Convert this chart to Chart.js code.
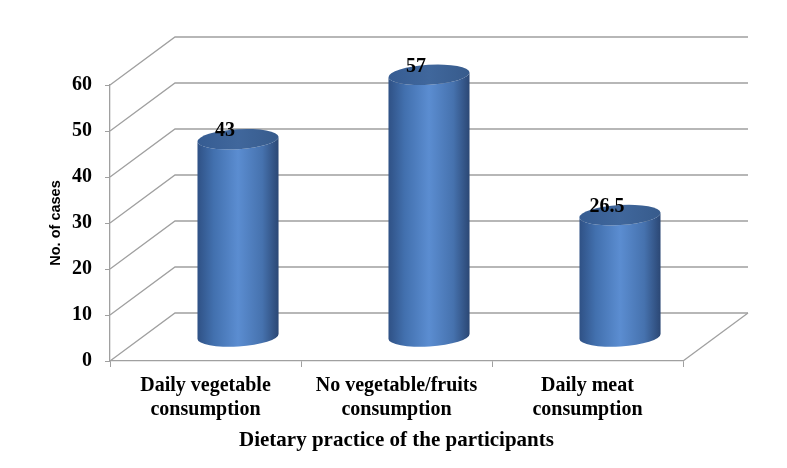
<!DOCTYPE html>
<html>
<head>
<meta charset="utf-8">
<title>Dietary practice of the participants</title>
<script src="https://cdn.jsdelivr.net/npm/chart.js@4"></script>
<style>
  html, body { margin: 0; padding: 0; background: #fff; }
  #wrap { width: 787px; height: 468px; }
</style>
</head>
<body>
<div id="wrap"><canvas id="dietChart"></canvas></div>
<script>
// values
const categories = [
    ['Daily vegetable', 'consumption'],
    ['No vegetable/fruits', 'consumption'],
    ['Daily meat', 'consumption']
];
const cases = [43, 57, 26.5];
const yTicks = [0, 10, 20, 30, 40, 50, 60];

// 3d look
const DEPTH_X = 65;
const DEPTH_Y = -48;
const GRID_COLOR = '#a0a0a0';
const SERIF = '"Liberation Serif", "Times New Roman", serif';

const wallsPlugin = {
    id: 'walls',
    beforeDatasetsDraw(chart) {
        const { ctx, chartArea } = chart;
        const yScale = chart.scales.y;
        ctx.save();
        ctx.strokeStyle = GRID_COLOR;
        ctx.lineWidth = 1.3;
        yTicks.forEach(v => {
            const y = yScale.getPixelForValue(v);
            ctx.beginPath();
            ctx.moveTo(chartArea.left, y);
            ctx.lineTo(chartArea.left + DEPTH_X, y + DEPTH_Y);
            ctx.lineTo(chartArea.right + DEPTH_X, y + DEPTH_Y);
            ctx.stroke();
        });
        // right edge of the floor
        const y0 = yScale.getPixelForValue(0);
        ctx.beginPath();
        ctx.moveTo(chartArea.right, y0);
        ctx.lineTo(chartArea.right + DEPTH_X, y0 + DEPTH_Y);
        ctx.stroke();
        ctx.restore();
    },
    afterDatasetsDraw(chart) {
        const { ctx } = chart;
        const meta = chart.getDatasetMeta(0);
        const dx = DEPTH_X / 2;
        const dy = DEPTH_Y / 2;
        const rot = -0.06;
        ctx.save();
        meta.data.forEach((bar, i) => {
            const cx = bar.x + dx;
            const top = bar.y + dy;
            const base = bar.base + dy;
            const rx = bar.width / 2;
            const ry = 10;

            const body = ctx.createLinearGradient(cx - rx, 0, cx + rx, 0);
            body.addColorStop(0, '#2f5185');
            body.addColorStop(0.2, '#4270ae');
            body.addColorStop(0.5, '#5b8dd1');
            body.addColorStop(0.8, '#4672ae');
            body.addColorStop(1, '#2b4774');
            ctx.fillStyle = body;
            ctx.beginPath();
            ctx.ellipse(cx, top, rx, ry, rot, Math.PI, 0, true);
            ctx.lineTo(cx + rx, base);
            ctx.ellipse(cx, base, rx, ry, rot, 0, Math.PI, false);
            ctx.closePath();
            ctx.fill();

            const cap = ctx.createLinearGradient(cx - rx, 0, cx + rx, 0);
            cap.addColorStop(0, '#365c92');
            cap.addColorStop(0.5, '#40679c');
            cap.addColorStop(1, '#375b8c');
            ctx.fillStyle = cap;
            ctx.beginPath();
            ctx.ellipse(cx, top, rx, ry, rot, 0, Math.PI * 2);
            ctx.fill();

            ctx.fillStyle = '#000';
            ctx.font = 'bold 20px ' + SERIF;
            ctx.textAlign = 'center';
            ctx.textBaseline = 'middle';
            ctx.fillText(String(cases[i]), cx - 13, top - 8);
        });
        ctx.restore();
    }
};

new Chart(document.getElementById('dietChart'), {
    type: 'bar',
    data: {
        labels: categories,
        datasets: [{
            label: 'No. of cases',
            data: cases,
            backgroundColor: 'rgba(0,0,0,0)',
            borderWidth: 0,
            categoryPercentage: 1,
            barPercentage: 0.425
        }]
    },
    options: {
        responsive: true,
        maintainAspectRatio: false,
        animation: false,
        layout: {
            padding: { left: 0, right: 104, top: 85, bottom: 0 }
        },
        plugins: {
            legend: { display: false },
            tooltip: { enabled: false }
        },
        scales: {
            x: {
                afterFit(scale) { scale.height = 107; },
                grid: {
                    offset: true,
                    drawOnChartArea: false,
                    tickLength: 6,
                    color: GRID_COLOR
                },
                border: { color: GRID_COLOR, width: 1.3 },
                ticks: {
                    color: '#000',
                    padding: 7,
                    maxRotation: 0,
                    font: { family: SERIF, size: 20, weight: 'bold', lineHeight: 1.2 }
                },
                title: {
                    display: true,
                    text: 'Dietary practice of the participants',
                    color: '#000',
                    padding: { top: 0, bottom: 15 },
                    font: { family: SERIF, size: 21, weight: 'bold' }
                }
            },
            y: {
                min: 0,
                max: 60,
                afterFit(scale) { scale.width = 110; },
                afterBuildTicks(scale) {
                    scale.ticks = yTicks.map(v => ({ value: v }));
                },
                grid: {
                    drawOnChartArea: false,
                    tickLength: 5,
                    color: GRID_COLOR
                },
                border: { color: GRID_COLOR, width: 1.3 },
                ticks: {
                    color: '#000',
                    padding: 13,
                    font: { family: SERIF, size: 20, weight: 'bold' }
                },
                title: {
                    display: true,
                    text: 'No. of cases',
                    color: '#000',
                    padding: { top: 47, bottom: 0 },
                    font: { family: '"Liberation Sans", Arial, sans-serif', size: 14.5, weight: 'bold' }
                }
            }
        }
    },
    plugins: [wallsPlugin]
});
</script>
</body>
</html>
